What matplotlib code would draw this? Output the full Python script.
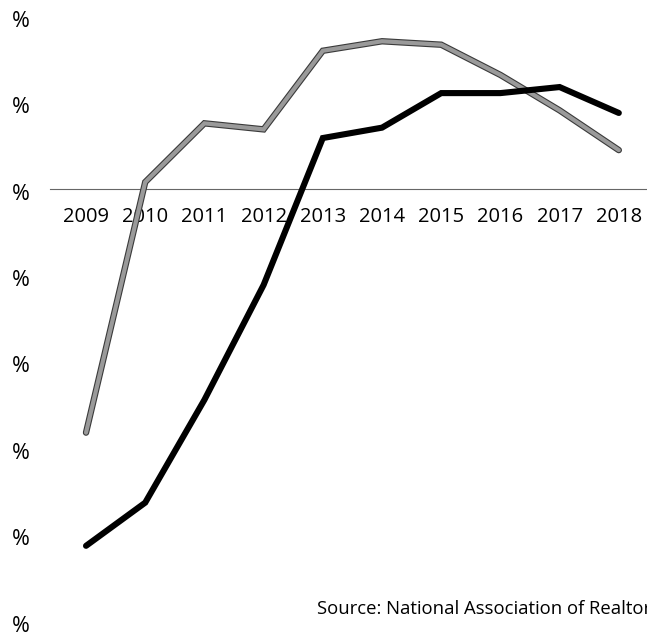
import matplotlib
matplotlib.use("Agg")
import matplotlib.pyplot as plt
import matplotlib.patheffects as pe
import matplotlib.transforms as mtrans
from matplotlib.transforms import offset_copy

plt.rcParams["font.family"] = ["Open Sans", "DejaVu Sans"]

# Annual change (%) by year
years = [2009, 2010, 2011, 2012, 2013, 2014, 2015, 2016, 2017, 2018]
series_gray = [-28.2, 0.8, 7.6, 6.9, 16.0, 17.1, 16.7, 13.2, 9.1, 4.5]
series_black = [-41.3, -36.3, -24.4, -11.1, 5.9, 7.1, 11.1, 11.1, 11.8, 8.8]
y_ticks = [20, 10, 0, -10, -20, -30, -40, -50]
y_tick_labels = ["%"] * len(y_ticks)
source_text = "Source: National Association of Realtors"

fig = plt.figure(figsize=(6.47, 6.35), dpi=100)
ax = fig.add_axes([0, 0, 1, 1])
ax.set_xlim(2007.547, 2018.476)
ax.set_ylim(-51.62, 21.875)
ax.axis("off")

# zero baseline
ax.axhline(0, xmin=0.077, xmax=1.0, color="#666666", lw=0.8, zorder=1)

# gray series with darker outline
ax.plot(years, series_gray, color="#9a9a9a", lw=3.0, solid_joinstyle="miter",
        solid_capstyle="round", zorder=3,
        path_effects=[pe.Stroke(linewidth=4.6, foreground="#3a3a3a"), pe.Normal()])

# black series
ax.plot(years, series_black, color="black", lw=4.4, solid_joinstyle="miter",
        solid_capstyle="round", zorder=4)

# year labels sitting under the zero line
lab_tr = offset_copy(ax.transData, fig=fig, x=0, y=-28, units="dots")
for yr in years:
    ax.text(yr, 0, str(yr), transform=lab_tr, ha="center", va="center",
            fontsize=14.5, color="black", zorder=2)

# y tick labels
ytr = mtrans.blended_transform_factory(fig.dpi_scale_trans, ax.transData)
ytr = offset_copy(ytr, fig=fig, x=0, y=-5, units="dots")
for v, s in zip(y_ticks, y_tick_labels):
    ax.text(0.21, v, s, transform=ytr, ha="center", va="center",
            fontsize=15.5, color="black")

# source note, running off the right edge
fig.text(317 / 647, 1 - 609 / 635, source_text, ha="left", va="center",
         fontsize=13.35, color="black")

fig.savefig("out.png", dpi=100)
